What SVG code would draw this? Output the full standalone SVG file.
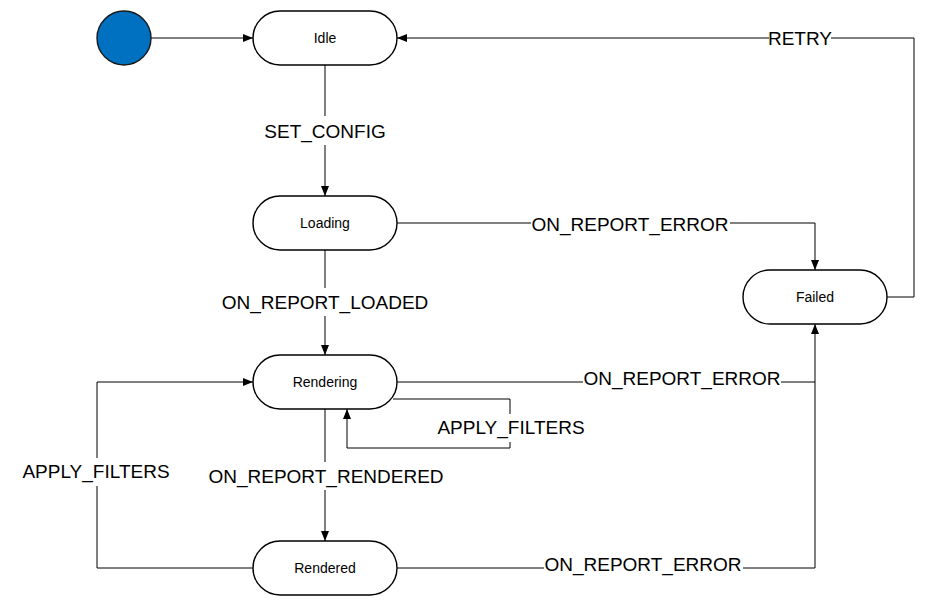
<svg xmlns="http://www.w3.org/2000/svg" width="925" height="606" viewBox="0 0 925 606">
<style>
.node{fill:#fff;stroke:#000;stroke-width:1.4}
.nt{font-family:"Liberation Sans",Arial,sans-serif;font-size:14px;text-anchor:middle;dominant-baseline:central;fill:#000}
.edge{fill:none;stroke:#000;stroke-width:1}
.lbl{font-family:"Liberation Sans",Arial,sans-serif;font-size:19px;text-anchor:middle;fill:#000}
.bg{fill:#fff}
</style>
<defs>
<marker id="arr" viewBox="0 0 10 10" refX="10" refY="5" markerWidth="10" markerHeight="10" markerUnits="userSpaceOnUse" orient="auto">
<path d="M0,1 L10,5 L0,9 Z" fill="#000"/>
</marker>
</defs>
<rect width="925" height="606" fill="#fff"/>
<g id="connectors">
<path class="edge" d="M151,38 H253" marker-end="url(#arr)"/>
<path class="edge" d="M325,65 V196" marker-end="url(#arr)"/>
<path class="edge" d="M325,250 V355" marker-end="url(#arr)"/>
<path class="edge" d="M325,409 V541" marker-end="url(#arr)"/>
<path class="edge" d="M397,223 H815 V270" marker-end="url(#arr)"/>
<path class="edge" d="M397,382 H815"/>
<path class="edge" d="M397,568 H815 V324" marker-end="url(#arr)"/>
<path class="edge" d="M887,297 H914 V38 H397" marker-end="url(#arr)"/>
<path class="edge" d="M393,399 H510 V448 H347 V409" marker-end="url(#arr)"/>
<path class="edge" d="M253,568 H97 V382 H253" marker-end="url(#arr)"/>
<rect class="bg" x="262" y="116" width="126" height="29"/>
<text class="lbl" x="325" y="138">SET_CONFIG</text>
<rect class="bg" x="216" y="288" width="218" height="28"/>
<text class="lbl" x="325" y="309">ON_REPORT_LOADED</text>
<rect class="bg" x="531" y="210" width="199" height="26"/>
<text class="lbl" x="630" y="231">ON_REPORT_ERROR</text>
<rect class="bg" x="583" y="368" width="198" height="24"/>
<text class="lbl" x="682" y="385">ON_REPORT_ERROR</text>
<rect class="bg" x="544" y="552" width="199" height="26"/>
<text class="lbl" x="643" y="571">ON_REPORT_ERROR</text>
<rect class="bg" x="437" y="414" width="148" height="28"/>
<text class="lbl" x="511" y="434">APPLY_FILTERS</text>
<rect class="bg" x="21" y="458" width="149" height="28"/>
<text class="lbl" x="96" y="478">APPLY_FILTERS</text>
<rect class="bg" x="205" y="462" width="242" height="28"/>
<text class="lbl" x="326" y="483">ON_REPORT_RENDERED</text>
<rect class="bg" x="769" y="28" width="62" height="22"/>
<text class="lbl" x="800" y="45">RETRY</text>
</g>
<g id="initial">
<circle cx="124" cy="38" r="27" fill="#0070C0" stroke="#1a1a1a" stroke-width="1.4"/>
</g>
<g id="idle">
<rect class="node" x="253" y="11" width="144" height="54" rx="27"/>
<text class="nt" x="325" y="38">Idle</text>
</g>
<g id="loading">
<rect class="node" x="253" y="196" width="144" height="54" rx="27"/>
<text class="nt" x="325" y="223">Loading</text>
</g>
<g id="rendering">
<rect class="node" x="253" y="355" width="144" height="54" rx="27"/>
<text class="nt" x="325" y="382">Rendering</text>
</g>
<g id="rendered">
<rect class="node" x="253" y="541" width="144" height="54" rx="27"/>
<text class="nt" x="325" y="568">Rendered</text>
</g>
<g id="failed">
<rect class="node" x="743" y="270" width="144" height="54" rx="27"/>
<text class="nt" x="815" y="297">Failed</text>
</g>
</svg>
